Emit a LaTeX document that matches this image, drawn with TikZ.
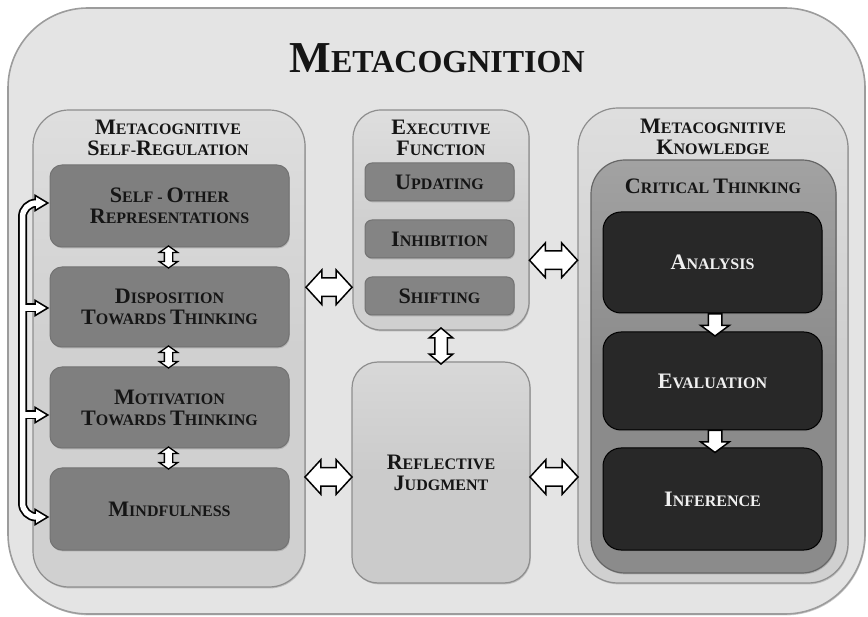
\documentclass[tikz,border=0pt]{standalone}
\usepackage{fontspec}
\usepackage{graphicx}
\setmainfont{Liberation Serif}
\usetikzlibrary{shapes.arrows,shadows,calc}

% enlarged initial capital for hand-made small caps
\newcommand\Ca[1]{\scalebox{1.38}{#1}}
% invisible square that fixes the shaft width of a block arrow
\newcommand\shaft[1]{\rule{#1}{0pt}\rule{0pt}{#1}}

\definecolor{bgout}{HTML}{E4E4E4}
\definecolor{bgoutedge}{HTML}{9C9C9C}
\definecolor{panelfill}{HTML}{D0D0D0}
\definecolor{paneledge}{HTML}{8E8E8E}
\definecolor{midbox}{HTML}{7F7F7F}
\definecolor{exbox}{HTML}{848484}
\definecolor{ctbox}{HTML}{8B8B8B}
\definecolor{darkbox}{HTML}{282828}
\definecolor{rjbox}{HTML}{CBCBCB}
\definecolor{inktext}{HTML}{151515}

\begin{document}
\begin{tikzpicture}[x=1pt,y=-1pt,
  every node/.style={inner sep=0pt, outer sep=0pt},
  sctext/.style={font=\fontsize{16}{21}\selectfont\bfseries, text=inktext, align=center},
  soft/.style={drop shadow={opacity=0.40, shadow xshift=0.8pt, shadow yshift=-1.4pt}},
  outerbox/.style={draw=bgoutedge, line width=1.6pt, fill=bgout, rounded corners=80pt, soft},
  panel/.style={draw=paneledge, line width=1.2pt, top color=panelfill!70!white, bottom color=panelfill, middle color=panelfill, soft},
  leafbox/.style={draw=black!55, line width=1pt, fill=midbox, rounded corners=12pt, soft, sctext},
  exleaf/.style={draw=black!55, line width=1pt, fill=exbox, rounded corners=7pt, soft, sctext},
  darkleaf/.style={draw=black, line width=1pt, fill=darkbox, rounded corners=18pt, soft, sctext, text=white!94!black},
  blockarrow/.style={draw=black, fill=white, line width=1.5pt, line join=miter},
  hdarrow/.style={blockarrow, double arrow, double arrow head extend=8pt, double arrow tip angle=95},
  vsmall/.style={blockarrow, line width=1.3pt, double arrow, shape border rotate=90, double arrow head extend=5pt, double arrow tip angle=110},
  vmid/.style={blockarrow, double arrow, shape border rotate=90, double arrow head extend=5.5pt, double arrow tip angle=100},
  downarrow/.style={blockarrow, single arrow, shape border rotate=270, single arrow head extend=7.5pt, single arrow tip angle=107},
  brkouter/.style={draw=black, line width=9pt, rounded corners=14pt},
  brkinner/.style={draw=white, line width=5.5pt, rounded corners=14pt},
]
\useasboundingbox (0,0) rectangle (868,617);

% outer container and its heading
\node[outerbox, minimum width=857pt, minimum height=606pt] (meta) at (436.5,311) {};
\node[sctext, font=\fontsize{32}{34}\selectfont\bfseries] (title) at (437,58) {\Ca{M}ETACOGNITION};

% three columns
\node[panel, rounded corners=36pt, minimum width=272pt, minimum height=477pt] (lp) at (169,348.5) {};
\node[sctext] (lpt) at (168,138) {\Ca{M}ETACOGNITIVE\\\Ca{S}ELF-\Ca{R}EGULATION};

\node[panel, rounded corners=28pt, minimum width=176pt, minimum height=220pt] (ep) at (441,220) {};
\node[sctext] (ept) at (441,138) {\Ca{E}XECUTIVE\\\Ca{F}UNCTION};

\node[panel, rounded corners=26pt, fill=rjbox, top color=rjbox!75!white, bottom color=rjbox, middle color=rjbox, minimum width=178pt, minimum height=221pt, sctext] (rj) at (441,472.5) {\Ca{R}EFLECTIVE\\\Ca{J}UDGMENT};

\node[panel, rounded corners=40pt, minimum width=270pt, minimum height=475pt] (rp) at (713,345.5) {};
\node[sctext] (rpt) at (713,137) {\Ca{M}ETACOGNITIVE\\\Ca{K}NOWLEDGE};

\node[panel, draw=black!60, rounded corners=34pt, top color=ctbox!80!white, bottom color=ctbox, middle color=ctbox, minimum width=245pt, minimum height=413pt] (ct) at (713.5,366.5) {};
\node[sctext] (ctt) at (713,186) {\Ca{C}RITICAL \Ca{T}HINKING};

% self-regulation components
\node[leafbox, minimum width=239pt, minimum height=82pt] (b1) at (169.5,206) {\Ca{S}ELF - \Ca{O}THER\\\Ca{R}EPRESENTATIONS};
\node[leafbox, minimum width=239pt, minimum height=80pt] (b2) at (169.5,307) {\Ca{D}ISPOSITION\\\Ca{T}OWARDS \Ca{T}HINKING};
\node[leafbox, minimum width=239pt, minimum height=81pt] (b3) at (169.5,407.5) {\Ca{M}OTIVATION\\\Ca{T}OWARDS \Ca{T}HINKING};
\node[leafbox, minimum width=239pt, minimum height=82pt] (b4) at (169.5,509) {\Ca{M}INDFULNESS};

% executive function components
\node[exleaf, minimum width=149pt, minimum height=38pt] (e1) at (439.5,182) {\Ca{U}PDATING};
\node[exleaf, minimum width=149pt, minimum height=38pt] (e2) at (439.5,239) {\Ca{I}NHIBITION};
\node[exleaf, minimum width=149pt, minimum height=38pt] (e3) at (439.5,296) {\Ca{S}HIFTING};

% critical thinking steps
\node[darkleaf, minimum width=219pt, minimum height=101pt] (d1) at (712.5,262.5) {\Ca{A}NALYSIS};
\node[darkleaf, minimum width=219pt, minimum height=98pt] (d2) at (712.5,381) {\Ca{E}VALUATION};
\node[darkleaf, minimum width=219pt, minimum height=102pt] (d3) at (712.5,499) {\Ca{I}NFERENCE};

% links between the columns
\node[hdarrow, minimum height=46pt] (a1) at ($(lp.east)!0.5!(ep.west)+(0,3)$) {\shaft{17pt}};
\node[hdarrow, minimum height=48pt] (a2) at ($(ep.east)!0.5!(rp.west)+(0,-22.5)$) {\shaft{17pt}};
\node[hdarrow, minimum height=47pt] (a3) at ($(lp.east|-rj.center)!0.5!(rj.west)+(0,4.5)$) {\shaft{17pt}};
\node[hdarrow, minimum height=48pt] (a4) at ($(rj.east)!0.5!(rp.west|-rj.center)+(0,4.5)$) {\shaft{17pt}};
\node[vmid, minimum height=36pt] (a5) at ($(ep.south)!0.5!(rj.north)$) {\shaft{11pt}};

% links inside the self-regulation column
\node[vsmall, minimum height=22pt] (s1) at ($(b1.south)!0.5!(b2.north)+(-1,0)$) {\shaft{7pt}};
\node[vsmall, minimum height=22pt] (s2) at ($(b2.south)!0.5!(b3.north)+(-1,0)$) {\shaft{7pt}};
\node[vsmall, minimum height=22pt] (s3) at ($(b3.south)!0.5!(b4.north)+(-1,0)$) {\shaft{7pt}};

% steps of critical thinking
\node[downarrow, minimum height=22pt] (c1) at ($(d1.south)!0.5!(d2.north)+(2.5,0)$) {\shaft{12pt}};
\node[downarrow, minimum height=22pt] (c2) at ($(d2.south)!0.5!(d3.north)+(2.5,0)$) {\shaft{12pt}};

% feedback bracket on the left of the self-regulation boxes
\coordinate (t1) at ($(b1.west)+(-4,-3)$);
\coordinate (t2) at ($(b2.west)+(-4,1)$);
\coordinate (t3) at ($(b3.west)+(-4,7.5)$);
\coordinate (t4) at ($(b4.west)+(-4,8)$);
\begin{scope}
  \draw[brkouter] ($(t1)+(-9,0)$) -| ($(t4)+(-23.5,0)$) -- ($(t4)+(-9,0)$);
  \draw[brkouter] ($(t2)+(-23.5,0)$) -- ($(t2)+(-9,0)$);
  \draw[brkouter] ($(t3)+(-23.5,0)$) -- ($(t3)+(-9,0)$);
  \foreach \t in {t1,t2,t3,t4}
    \filldraw[black, line width=3.4pt, line join=miter] (\t) -- ++(-10,-6) -- ++(0,12) -- cycle;
  \draw[brkinner] ($(t1)+(-9,0)$) -| ($(t4)+(-23.5,0)$) -- ($(t4)+(-9,0)$);
  \draw[brkinner] ($(t2)+(-23.5,0)$) -- ($(t2)+(-9,0)$);
  \draw[brkinner] ($(t3)+(-23.5,0)$) -- ($(t3)+(-9,0)$);
  \foreach \t in {t1,t2,t3,t4}
    \fill[white] (\t) -- ++(-10,-6) -- ++(0,12) -- cycle;
\end{scope}
\end{tikzpicture}
\end{document}
